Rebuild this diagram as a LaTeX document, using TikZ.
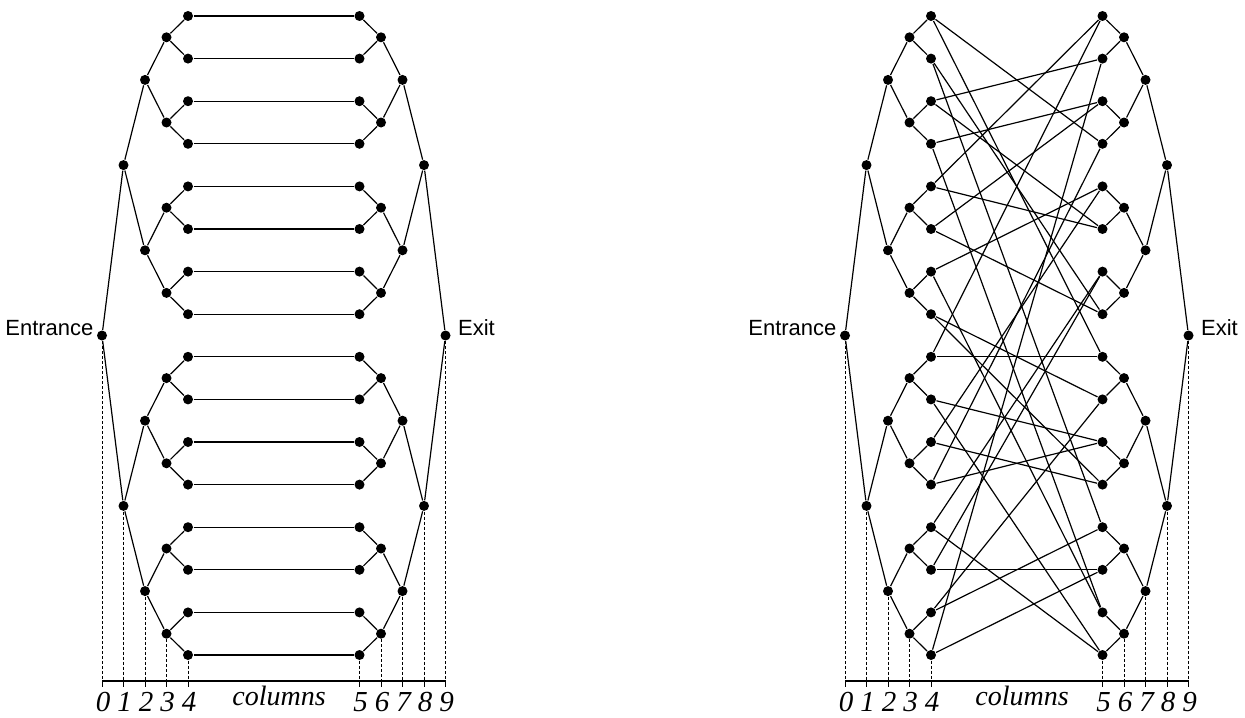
\documentclass[tikz,border=0pt]{standalone}
\usepackage{fontspec}
\setmainfont{Liberation Serif}
\newfontfamily\entfont{Liberation Sans}
\usetikzlibrary{calc}
\tikzset{
    dot/.style={circle,fill=black,inner sep=0pt,minimum size=5pt},
    guide/.style={line width=0.45pt,dash pattern=on 1.5pt off 1pt},
    colnum/.style={anchor=base,inner sep=0pt,font=\fontsize{14.5}{16}\selectfont\itshape},
    colword/.style={anchor=base,inner sep=0pt,font=\fontsize{14}{16}\selectfont\itshape},
    endlbl/.style={inner sep=0pt,font=\entfont\fontsize{11}{13}\selectfont},
}

\begin{document}
\begin{tikzpicture}[x=0.5pt,y=-0.5pt,line width=0.6pt]
\useasboundingbox (0,0) rectangle (1245,717);

% the two binary trees of each panel (a = left, b = right)
\foreach \p/\ox in {a/0,b/743}{
  \coordinate (\p ax) at (\ox,681);
  \foreach \k in {0,...,4}{
    \pgfmathtruncatemacro{\n}{2^\k}
    \pgfmathsetmacro{\blk}{2^(4-\k)}
    \foreach \j in {1,...,\n}{
      \pgfmathsetmacro{\yy}{16+42.6*((\j-1)*\blk+(\blk-1)/2)}
      \node[dot] (\p L\k-\j) at (\ox+102+21.5*\k,\yy) {};
      \node[dot] (\p R\k-\j) at (\ox+445.5-21.5*\k,\yy) {};
    }
  }
  \foreach \k in {1,...,4}{
    \pgfmathtruncatemacro{\km}{\k-1}
    \pgfmathtruncatemacro{\n}{2^\k}
    \foreach \j in {1,...,\n}{
      \pgfmathtruncatemacro{\pj}{(\j+1)/2}
      \draw (\p L\km-\pj) -- (\p L\k-\j);
      \draw (\p R\km-\pj) -- (\p R\k-\j);
    }
  }
  % column axis
  \draw (\p L0-1 |- \p ax) -- (\p R0-1 |- \p ax);
  \foreach \k in {0,...,4}{
    \pgfmathtruncatemacro{\n}{2^\k}
    \pgfmathtruncatemacro{\m}{9-\k}
    \draw[guide] (\p L\k-\n) -- (\p L\k-\n |- \p ax);
    \draw[guide] (\p R\k-\n) -- (\p R\k-\n |- \p ax);
    \draw[line width=0.45pt] (\p L\k-\n |- \p ax) -- ++(0,6);
    \draw[line width=0.45pt] (\p R\k-\n |- \p ax) -- ++(0,6);
    \node[colnum] (\p c\k) at (\ox+103+21.5*\k,711) {\k};
    \node[colnum] (\p c\m) at (\ox+446.5-21.5*\k,711) {\m};
  }
  \node[colword] (\p cols) at (\ox+279,705) {columns};
  \node[endlbl,anchor=base east] (\p in) at ([xshift=-4pt]\p L0-1.center) {Entrance};
  \node[endlbl,anchor=base west] (\p out) at ([xshift=6pt]\p R0-1.center) {Exit};
}

% left: leaves glued straight across
\foreach \i in {1,...,16}
  \draw (aL4-\i) -- (aR4-\i);

% right: random gluing
\foreach \i/\j in {1/4,1/9,2/8,2/13,3/2,3/6,4/3,4/15,5/1,5/6,6/3,6/8,7/5,7/15,8/10,8/12,
                   9/1,9/9,10/11,10/16,11/5,11/12,12/4,12/11,13/7,13/16,14/7,14/14,15/10,15/13,16/2,16/14}
  \draw (bL4-\i) -- (bR4-\j);
\end{tikzpicture}
\end{document}
